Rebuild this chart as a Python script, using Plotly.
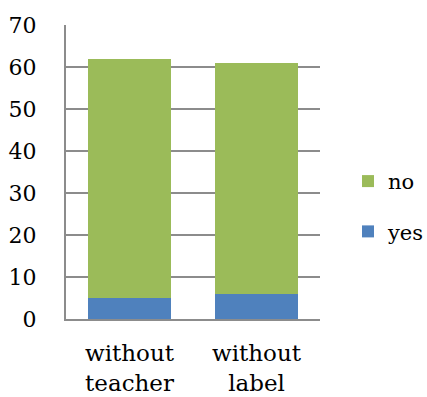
import plotly.graph_objects as go

categories = ["without<br>teacher", "without<br>label"]
yes_values = [5, 6]
no_values = [57, 55]
y_ticks = [0, 10, 20, 30, 40, 50, 60, 70]

FONT = "DejaVu Serif"
GRID = "#8c8c8c"

fig = go.Figure()
fig.add_trace(go.Bar(x=categories, y=yes_values, name="yes", marker_color="#4F81BD",
                     marker_line_width=0, legendrank=2, legendgroup="yes"))
fig.add_trace(go.Bar(x=categories, y=no_values, name="no", marker_color="#9BBB59",
                     marker_line_width=0, legendrank=1, legendgroup="no"))

fig.update_layout(
    barmode="stack",
    bargap=0.354,
    width=427, height=397,
    margin=dict(l=66, r=107, t=25, b=78),
    paper_bgcolor="white", plot_bgcolor="white",
    font=dict(family=FONT, size=21, color="black"),
    legend=dict(xref="container", yref="container", x=0.815, xanchor="left",
                y=0.48, yanchor="middle",
                traceorder="grouped", tracegroupgap=20,
                font=dict(size=21), itemwidth=30),
    xaxis=dict(showline=True, linecolor=GRID, linewidth=2, ticks="",
               ticklabelstandoff=12, tickfont=dict(size=23), automargin=False),
    yaxis=dict(range=[0, 70], tickvals=y_ticks, showgrid=True, gridcolor=GRID,
               gridwidth=2, showline=True, linecolor=GRID, linewidth=2,
               ticks="", ticklabelstandoff=23, zeroline=False,
               tickfont=dict(size=22), automargin=False),
)

fig.write_html("out.html")
